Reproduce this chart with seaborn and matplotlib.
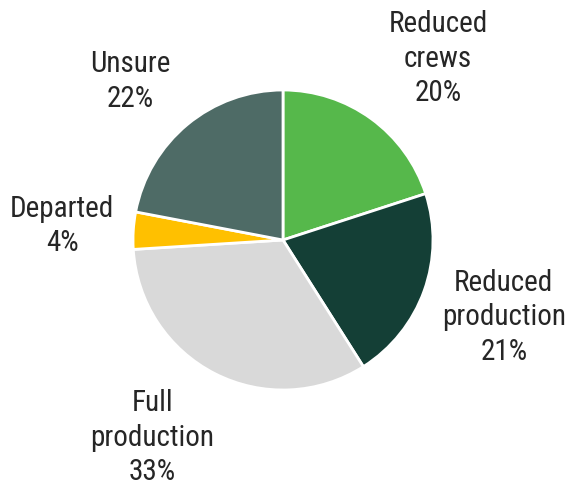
import numpy as np
import matplotlib
matplotlib.use("Agg")
import matplotlib.pyplot as plt
import seaborn as sns

categories = ["Reduced\ncrews", "Reduced\nproduction", "Full\nproduction", "Departed", "Unsure"]
values = [20, 21, 33, 4, 22]
colors = ["#56b84b", "#143f36", "#d9d9d9", "#ffc000", "#4e6b66"]
label_dist = [1.59, 1.56, 1.58, 1.475, 1.47]
label_dang = [-4.5, 0.5, -6.5, 0.0, 4.4]

sns.set_style("white")
plt.rcParams['font.family'] = ['Roboto Condensed', 'DejaVu Sans']

fig = plt.figure(figsize=(5.67, 4.88), dpi=100)
ax = fig.add_axes([0, 0, 1, 1])
wedges, _ = ax.pie(values, colors=colors, startangle=90, counterclock=False,
                   radius=1.0, center=(0, 0),
                   wedgeprops=dict(edgecolor="white", linewidth=2))
total = sum(values)
for w, cat, v, d, da in zip(wedges, categories, values, label_dist, label_dang):
    ang = np.deg2rad((w.theta1 + w.theta2) / 2 + da)
    x, y = d * np.cos(ang), d * np.sin(ang)
    ax.text(x, y, f"{cat}\n{round(100 * v / total)}%", ha="center", va="center",
            fontsize=21, color="#262626", linespacing=1.3)

ax.set_xlim(-283 / 150, (567 - 283) / 150)
ax.set_ylim(-248 / 150, 240 / 150)
ax.set_aspect("equal")
ax.axis("off")
fig.savefig("out.png", dpi=100)
